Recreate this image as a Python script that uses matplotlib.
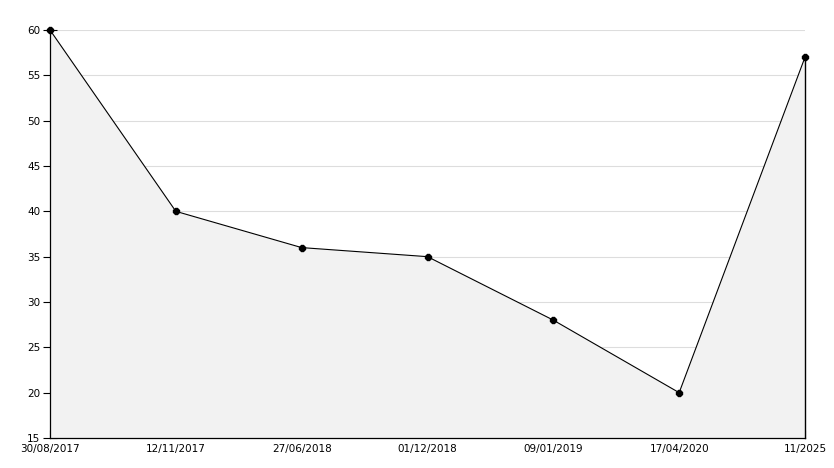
import matplotlib

matplotlib.use("Agg")
import matplotlib.pyplot as plt
import matplotlib.transforms as mtransforms
from matplotlib.ticker import MultipleLocator

dates = ["30/08/2017", "12/11/2017", "27/06/2018", "01/12/2018",
         "09/01/2019", "17/04/2020", "11/2025"]
values = [60, 40, 36, 35, 28, 20, 57]

x = list(range(len(dates)))

fig = plt.figure(figsize=(8.34, 4.68), dpi=100)
ax = fig.add_axes([50 / 834, 1 - 438 / 468, 755 / 834, 408 / 468])

ax.fill_between(x, values, 15, color="#f2f2f2", zorder=1, linewidth=0)
ax.plot(x, values, color="black", linewidth=0.8, zorder=3, clip_on=False)
ax.plot([x[-1], x[-1]], [15, values[-1]], color="black", linewidth=1.0, zorder=3, clip_on=False)
ax.plot(x, values, linestyle="none", marker="8", markersize=4, color="black", zorder=4, clip_on=False)

ax.set_xlim(x[0], x[-1])
ax.set_ylim(15, 60)
ax.set_xticks(x)
ax.set_xticklabels(dates)
ax.yaxis.set_major_locator(MultipleLocator(5))
ax.yaxis.set_minor_locator(MultipleLocator(1))
ax.grid(axis="y", color="#dddddd", linewidth=0.8, zorder=0)
ax.set_axisbelow(True)

for side in ("top", "right"):
    ax.spines[side].set_visible(False)
for side in ("left", "bottom"):
    ax.spines[side].set_linewidth(0.9)

ax.tick_params(axis="y", which="major", direction="inout", length=10, width=0.8, labelsize=7.5, pad=2)
ax.tick_params(axis="y", which="minor", direction="in", length=4, width=0.8)
ax.tick_params(axis="x", which="major", direction="in", length=6, width=0.8, labelsize=7.5, pad=4)

# lift the lowest y label a little so it sits clear of the first date
fig.canvas.draw()
lowest = ax.get_yticklabels()[0]
lowest.set_transform(lowest.get_transform() + mtransforms.ScaledTranslation(0, 2 / 72, fig.dpi_scale_trans))

fig.savefig("out.png", dpi=100)
